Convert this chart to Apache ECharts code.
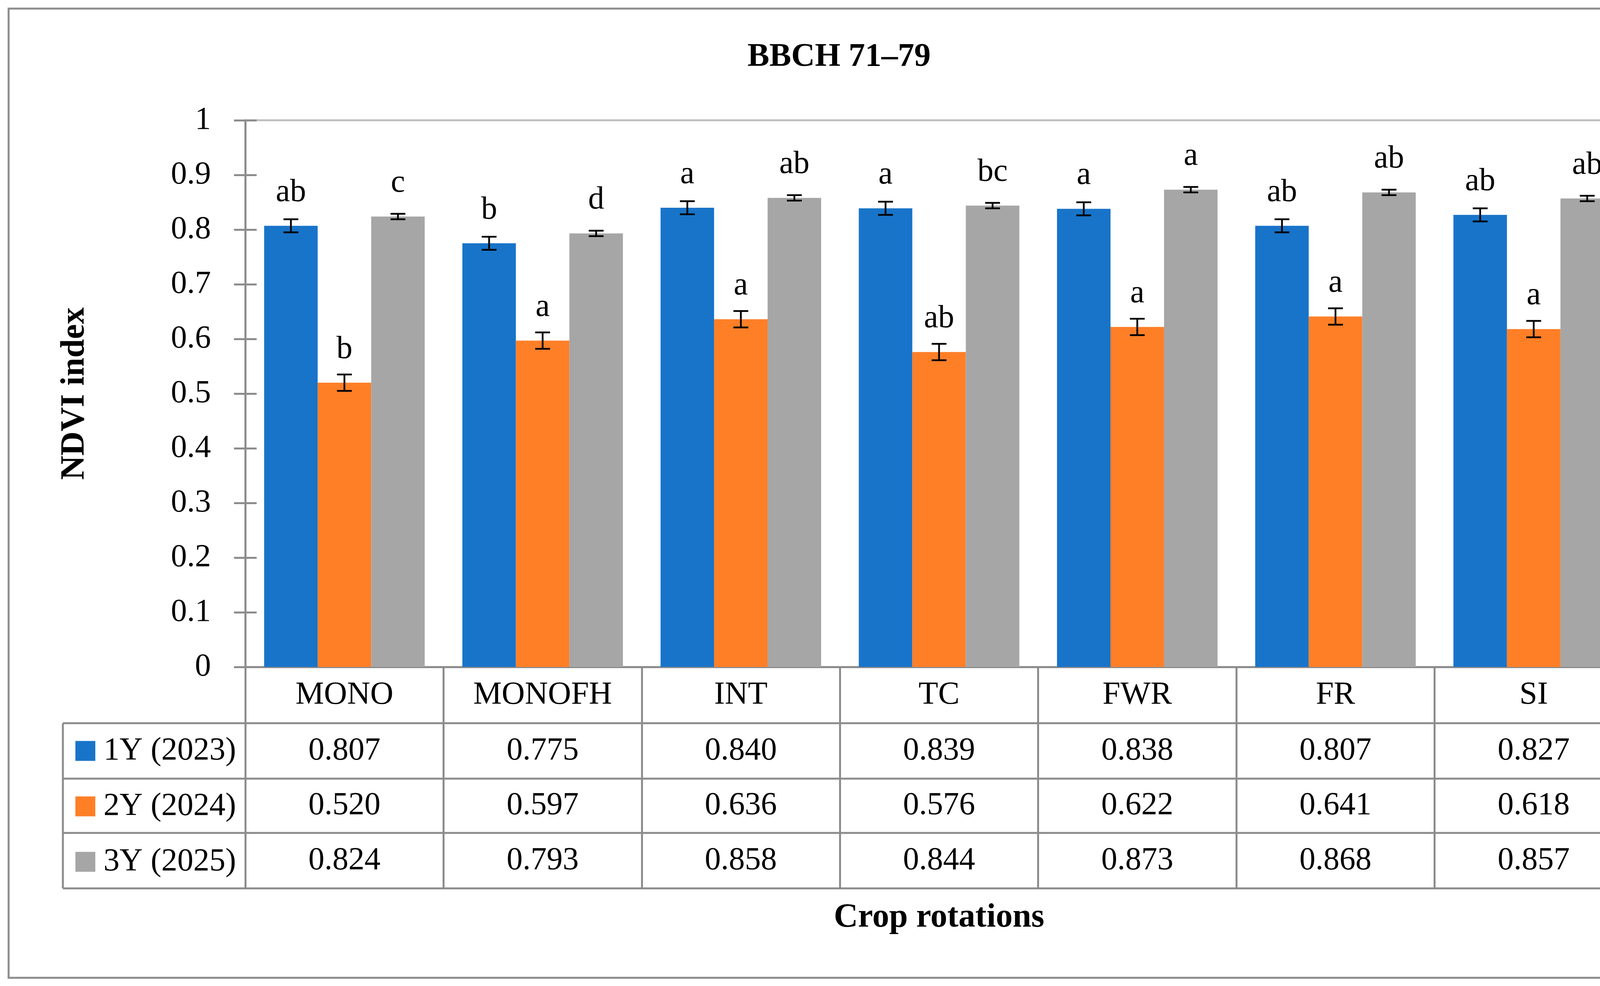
<!DOCTYPE html>
<html>
<head>
<meta charset="utf-8">
<script src="https://cdn.jsdelivr.net/npm/echarts@6/dist/echarts.min.js"></script>
<style>
html,body{margin:0;padding:0;background:#fff;}
#chart{width:4296px;height:2525px;}
</style>
</head>
<body>
<div id="chart"></div>
<script>
// ---- data ----
const categories = ['MONO', 'MONOFH', 'INT', 'TC', 'FWR', 'FR', 'SI'];
const seriesNames = ['1Y (2023)', '2Y (2024)', '3Y (2025)'];
const y2023 = [0.807, 0.775, 0.840, 0.839, 0.838, 0.807, 0.827];
const y2024 = [0.520, 0.597, 0.636, 0.576, 0.622, 0.641, 0.618];
const y2025 = [0.824, 0.793, 0.858, 0.844, 0.873, 0.868, 0.857];
const err2023 = [0.012, 0.012, 0.012, 0.012, 0.012, 0.012, 0.012];
const err2024 = [0.015, 0.015, 0.015, 0.015, 0.015, 0.015, 0.015];
const err2025 = [0.005, 0.005, 0.005, 0.005, 0.005, 0.005, 0.005];
const letters2023 = ['ab', 'b', 'a', 'a', 'a', 'ab', 'ab'];
const letters2024 = ['b', 'a', 'a', 'ab', 'a', 'a', 'a'];
const letters2025 = ['c', 'd', 'ab', 'bc', 'a', 'ab', 'ab'];
const yTicks = {min: 0, max: 1, interval: 0.1};

// ---- style / layout ----
const colors = ['#1874C9', '#FF7F27', '#A6A6A6'];
const FONT = '"Liberation Serif", "DejaVu Serif", serif';
const FS = 82;
const W = 4296, H = 2525;
const GL = 628, GR = 4180, GT = 308, GB = 1708;
const ROW = [GB, 1852, 1994, 2133, 2275];
const TABLE_LEFT = 161;
const lineGray = '#8c8c8c';
const CAT_GAP = 0.19;
const LEG_H = 82;

const values = [y2023, y2024, y2025];
const errs = [err2023, err2024, err2025];
const letters = [letters2023, letters2024, letters2025];

const chart = echarts.init(document.getElementById('chart'), null, {renderer: 'canvas', width: W, height: H});

function rowMargin(r) { return (ROW[r] + ROW[r + 1]) / 2 - GB; }

const baseTextStyle = {fontFamily: FONT, fontSize: FS, color: '#000'};

const xAxes = [{
  type: 'category', data: categories, gridIndex: 0, position: 'bottom',
  axisLine: {show: true, lineStyle: {color: lineGray, width: 5}},
  axisTick: {show: true, length: ROW[4] - GB, interval: 0, lineStyle: {color: lineGray, width: 5}},
  axisLabel: Object.assign({margin: rowMargin(0), verticalAlign: 'middle', interval: 0}, baseTextStyle),
  splitLine: {show: false},
  name: 'Crop rotations', nameLocation: 'middle', nameGap: 600,
  nameTextStyle: {fontFamily: FONT, fontSize: 86, fontWeight: 'bold', color: '#000'}
}];
values.forEach((arr, s) => {
  xAxes.push({
    type: 'category', data: categories, gridIndex: 0, position: 'bottom',
    axisLine: {show: false}, axisTick: {show: false}, splitLine: {show: false},
    axisLabel: Object.assign({
      margin: rowMargin(s + 1), verticalAlign: 'middle', interval: 0,
      formatter: (v, i) => arr[i].toFixed(3)
    }, baseTextStyle)
  });
});

const series = [];
values.forEach((arr, s) => {
  series.push({
    name: seriesNames[s], type: 'bar', xAxisIndex: 0, yAxisIndex: 0,
    data: arr, barGap: 0, barCategoryGap: (CAT_GAP * 100) + '%',
    itemStyle: {color: colors[s]},
    label: {
      show: true, position: 'top', distance: 44,
      formatter: p => letters[s][p.dataIndex],
      fontFamily: FONT, fontSize: FS, color: '#000'
    },
    emphasis: {disabled: true}
  });
});
values.forEach((arr, s) => {
  series.push({
    type: 'custom', xAxisIndex: 0, yAxisIndex: 0, z: 5,
    data: arr.map((v, i) => [i, v, errs[s][i]]),
    renderItem: function (params, api) {
      const idx = api.value(0), v = api.value(1), e = api.value(2);
      const top = api.coord([idx, v + e]);
      const bot = api.coord([idx, v - e]);
      const band = api.size([1, 0])[0];
      const bw = band * (1 - CAT_GAP) / 3;
      const x = top[0] + (s - 1) * bw;
      const cap = 19;
      const st = {stroke: '#000', lineWidth: 4.5};
      return {
        type: 'group', children: [
          {type: 'line', shape: {x1: x, y1: top[1], x2: x, y2: bot[1]}, style: st},
          {type: 'line', shape: {x1: x - cap, y1: top[1], x2: x + cap, y2: top[1]}, style: st},
          {type: 'line', shape: {x1: x - cap, y1: bot[1], x2: x + cap, y2: bot[1]}, style: st}
        ]
      };
    }
  });
});

const graphics = [
  {type: 'rect', shape: {x: 22, y: 22, width: W - 44, height: H - 43}, style: {fill: null, stroke: lineGray, lineWidth: 5}, z: 0}
];
for (let r = 1; r < ROW.length; r++) {
  graphics.push({type: 'line', shape: {x1: TABLE_LEFT, y1: ROW[r], x2: GR, y2: ROW[r]}, style: {stroke: lineGray, lineWidth: 5}, z: 10});
}
graphics.push({type: 'line', shape: {x1: TABLE_LEFT, y1: ROW[1], x2: TABLE_LEFT, y2: ROW[4]}, style: {stroke: lineGray, lineWidth: 5}, z: 10});

const option = {
  backgroundColor: '#fff',
  animation: false,
  color: colors,
  title: {
    text: 'BBCH 71–79', left: 'center', top: 100,
    textStyle: {fontFamily: FONT, fontSize: 84, fontWeight: 'bold', color: '#000'}
  },
  legend: {
    orient: 'vertical', left: 193, top: (ROW[1] + ROW[2]) / 2 - LEG_H / 2, padding: 0,
    itemWidth: 51, itemHeight: 51, itemGap: (ROW[2] - ROW[1]) - LEG_H,
    icon: 'rect', selectedMode: false,
    data: seriesNames,
    textStyle: {fontFamily: FONT, fontSize: FS, color: '#000', padding: [0, 0, 0, 16]}
  },
  grid: {
    left: GL, top: GT, width: GR - GL, height: GB - GT,
    show: true, borderColor: '#bfbfbf', borderWidth: 5, backgroundColor: 'transparent',
    containLabel: false, outerBoundsMode: 'none'
  },
  xAxis: xAxes,
  yAxis: [{
    type: 'value', min: yTicks.min, max: yTicks.max, interval: yTicks.interval, position: 'left',
    axisLine: {show: true, lineStyle: {color: lineGray, width: 5}},
    axisTick: {show: true, inside: false, length: 29, lineStyle: {color: lineGray, width: 5}},
    axisLabel: Object.assign({margin: 88}, baseTextStyle),
    splitLine: {show: false},
    name: 'NDVI index', nameLocation: 'middle', nameGap: 393, nameRotate: 90,
    nameTextStyle: {fontFamily: FONT, fontSize: 86, fontWeight: 'bold', color: '#000'}
  }, {
    type: 'value', min: yTicks.min, max: yTicks.max, interval: yTicks.interval, position: 'left',
    axisLine: {show: false},
    axisTick: {show: true, inside: true, length: 29, lineStyle: {color: lineGray, width: 5}},
    axisLabel: {show: false}, splitLine: {show: false}
  }],
  series: series,
  graphic: graphics
};
chart.setOption(option);
</script>
</body>
</html>
